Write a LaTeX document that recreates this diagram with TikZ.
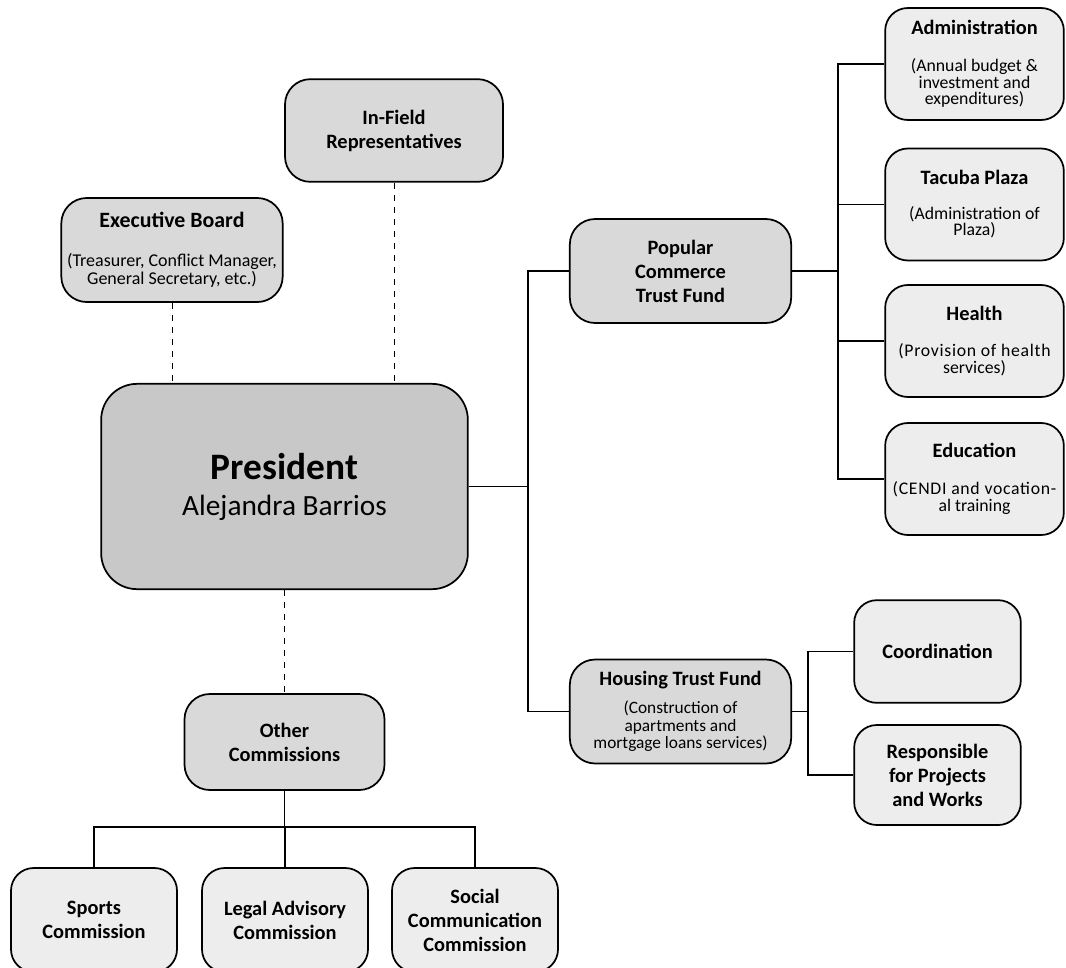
\documentclass[tikz,border=0pt]{standalone}
\usepackage{fontspec}
\setmainfont{Carlito}
\newfontfamily\spreadfont{Carlito}[LetterSpace=4]
\usetikzlibrary{positioning,calc}
\definecolor{presfill}{HTML}{C8C8C8}
\definecolor{unitfill}{HTML}{D9D9D9}
\definecolor{leaffill}{HTML}{EDEDED}
\newcommand{\headfont}{\fontsize{15.3}{18}\selectfont\bfseries\lineskiplimit=-20pt}
\newcommand{\notefont}{\fontsize{13.5}{13.5}\selectfont\lineskiplimit=-20pt}
\newcommand{\leafnote}{\fontsize{13.3}{12.6}\selectfont\lineskiplimit=-20pt}

\begin{document}
\begin{tikzpicture}[x=0.75pt, y=-0.75pt,
    box/.style={draw, line width=1.3pt, rounded corners=19pt, align=center, inner sep=2pt},
    unit/.style={box, fill=unitfill, minimum width=166pt, minimum height=78pt},
    leaf/.style={box, fill=leaffill, minimum width=134pt, minimum height=84pt, rounded corners=17pt, font=\leafnote},
    comm/.style={box, fill=leaffill, minimum width=124.5pt, minimum height=78pt, rounded corners=17pt, font=\headfont},
    link/.style={line width=1.1pt},
    dotlink/.style={line width=0.75pt, dash pattern=on 4.5pt off 4.5pt}]
    \clip (0,0) rectangle (1066,967);
    % President
    \node[box, fill=presfill, minimum width=275pt, minimum height=154pt, rounded corners=27pt,
        font=\fontsize{22}{27}\selectfont] (pres) at (284.5,486.5)
        {{\fontsize{28}{30}\selectfont\bfseries President}\\Alejandra Barrios};
    % Units around the president
    \node[unit, font=\notefont] (exec) at (172,250)
        {{\fontsize{16.4}{18}\selectfont\bfseries Executive Board}\\[16pt](Treasurer, Conflict Manager,\\General Secretary, etc.)};
    \node[unit, minimum width=163.5pt, minimum height=77pt, font=\headfont] (field) at (394,130.5)
        {In-Field\\Representatives};
    \node[unit, font=\headfont] (popular) at (680.5,271) {Popular\\Commerce\\Trust Fund};
    \node[unit, font=\fontsize{13}{13}\selectfont] (housing) at (680.5,711.5)
        {{\headfont Housing Trust Fund}\\[8pt](Construction of\\apartments and\\mortgage loans services)};
    \node[unit, minimum width=150pt, minimum height=72pt, font=\headfont] (other) at (284.5,742)
        {Other\\Commissions};
    % Areas of the popular commerce trust fund
    \node[leaf] (admin) at (974.5,64)
        {{\headfont Administration}\\[15pt](Annual budget \&\\investment and\\expenditures)};
    \node[leaf] (tacuba) at (974.5,204.5)
        {{\headfont Tacuba Plaza}\\[13pt](Administration of\\Plaza)};
    \node[leaf] (health) at (974.5,341)
        {{\headfont Health}\\[15pt]{\spreadfont (Provision of health}\\services)};
    \node[leaf] (educ) at (974.5,479)
        {{\headfont Education}\\[15pt]{\spreadfont (CENDI and vocation-}\\al training};
    % Areas of the housing trust fund
    \node[comm, minimum width=125pt, minimum height=77pt] (coord) at (937.5,651.5) {Coordination};
    \node[comm, minimum width=125pt, minimum height=75pt] (resp) at (937.5,775)
        {Responsible\\for Projects\\and Works};
    % Commissions
    \node[comm] (sports) at (94,920) {Sports\\Commission};
    \node[comm] (legal) at (285,920) {Legal Advisory\\Commission};
    \node[comm] (social) at (475,920) {Social\\Communication\\Commission};
    % Connectors
    \coordinate (bus) at (528,486.5);
    \coordinate (pbus) at (838,271);
    \coordinate (hbus) at (808,711.5);
    \coordinate (cbus) at (284.5,827);
    \draw[link] (pres.east) -- (bus);
    \draw[link] (popular.west) -| (bus) |- (housing.west);
    \draw[link] (popular.east) -- (pbus);
    \draw[link] (admin.west) -| (pbus) |- (educ.west);
    \foreach \n in {tacuba,health} {
        \draw[link] (\n.west) -- (\n.west -| pbus);
    }
    \draw[link] (housing.east) -- (hbus);
    \draw[link] (coord.west) -| (hbus) |- (resp.west);
    \draw[link] (other.south) -- (cbus);
    \draw[link] (sports.north) |- (cbus) -| (social.north);
    \draw[link] (legal.north) -- (legal.north |- cbus);
    % Dashed links
    \draw[dotlink] (exec.south) -- (exec.south |- pres.north);
    \draw[dotlink] (field.south) -- (field.south |- pres.north);
    \draw[dotlink] (pres.south) -- (other.north);
\end{tikzpicture}
\end{document}
